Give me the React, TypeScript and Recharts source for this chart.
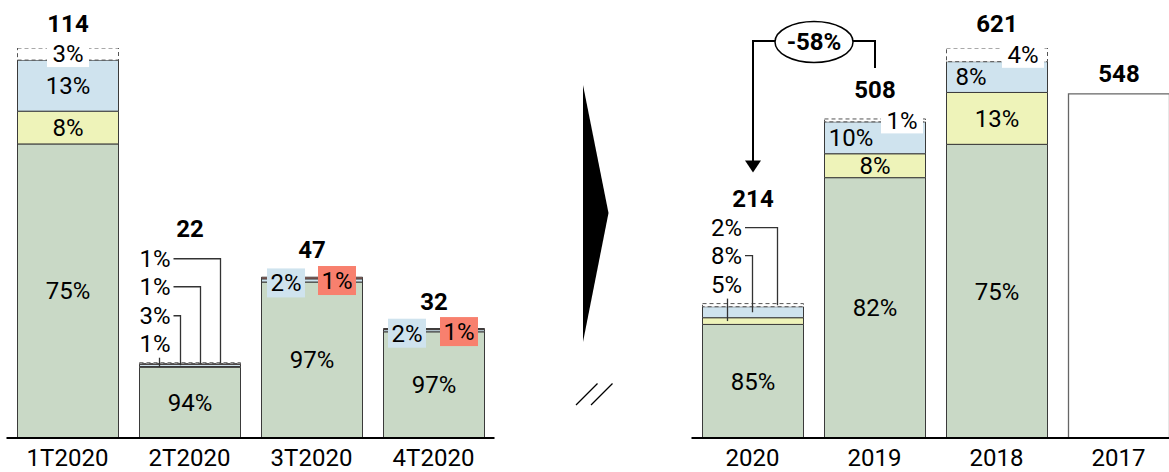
import React from 'react';
import { BarChart, Bar, XAxis, YAxis, LabelList } from 'recharts';

// ---------------- data ----------------
const leftCategories = ['1T2020', '2T2020', '3T2020', '4T2020'];
const leftTotals = [114, 22, 47, 32];
const leftGreen = [75.4, 94, 97, 97];
const leftYellow = [8.4, 1, 0, 0];
const leftBlue = [13.1, 3, 2, 2];
const leftRed = [0, 1, 1, 1];
const leftOther = [3.1, 1, 0, 0];
const leftPlain = [0, 0, 0, 0];

const rightCategories = ['2020', '2019', '2018', '2017'];
const rightTotals = [214, 508, 621, 548];
const rightGreen = [84.5, 81.6, 75.3, 0];
const rightYellow = [5, 7.5, 13.3, 0];
const rightBlue = [8.2, 10, 7.9, 0];
const rightRed = [0, 0, 0, 0];
const rightOther = [2.3, 0.9, 3.5, 0];
const rightPlain = [0, 0, 0, 100];

// ---------------- style / layout ----------------
const FONT = "Roboto, 'Liberation Sans', Arial, sans-serif";
const FS = 24;
const H = 472;
const PLOT_TOP = 48;
const PLOT_BOTTOM = 438;
const AXIS_H = 30;
const BAR = 101;
const BAND = 122;

type SeriesKey = 'green' | 'yellow' | 'blue' | 'red' | 'other' | 'plain';
const ORDER: SeriesKey[] = ['green', 'yellow', 'blue', 'red', 'other', 'plain'];
const FILL: Record<SeriesKey, string> = {
  green: '#c9d9c6',
  yellow: '#eef3b9',
  blue: '#cfe3ee',
  red: '#f8806e',
  other: '#ffffff',
  plain: '#ffffff',
};

type Place =
  | { kind: 'center'; dx?: number }
  | { kind: 'box'; dx: number; dy: number; bg: string; w: number; up: number; down: number }
  | { kind: 'leader'; textRight: number; above: number; lineX: number; vertical?: boolean };

const C: Place = { kind: 'center' };
const whiteBox = (dx: number): Place => ({ kind: 'box', dx, dy: 0, bg: '#ffffff', w: 42, up: 9, down: 13 });
const colorBox = (dx: number, bg: string): Place => ({ kind: 'box', dx, dy: 2.5, bg, w: 38, up: 14.5, down: 14.5 });

const leftPlaces: Record<string, Partial<Record<SeriesKey, Place>>> = {
  '1T2020': { green: C, yellow: C, blue: C, other: whiteBox(0) },
  '2T2020': {
    green: C,
    yellow: { kind: 'leader', textRight: 31, above: 19, lineX: 20, vertical: true },
    blue: { kind: 'leader', textRight: 31, above: 47, lineX: 41 },
    red: { kind: 'leader', textRight: 31, above: 76, lineX: 61 },
    other: { kind: 'leader', textRight: 31, above: 104, lineX: 81 },
  },
  '3T2020': { green: C, blue: colorBox(-26, FILL.blue), red: colorBox(25, FILL.red) },
  '4T2020': { green: C, blue: colorBox(-27, FILL.blue), red: colorBox(25, FILL.red) },
};
const rightPlaces: Record<string, Partial<Record<SeriesKey, Place>>> = {
  '2020': {
    green: C,
    yellow: { kind: 'leader', textRight: 39.5, above: 19, lineX: 25, vertical: true },
    blue: { kind: 'leader', textRight: 39.5, above: 48, lineX: 50 },
    other: { kind: 'leader', textRight: 39.5, above: 76, lineX: 75 },
  },
  '2019': { green: C, yellow: C, blue: { kind: 'center', dx: -24 }, other: whiteBox(27) },
  '2018': { green: C, yellow: C, blue: { kind: 'center', dx: -26 }, other: whiteBox(26) },
  '2017': {},
};
const leftTotalGap = [16, 126, 19, 19];
const rightTotalGap = [97, 21, 16, 12];

type Row = any;

function buildRows(cats: string[], totals: number[], shares: Record<SeriesKey, number[]>): Row[] {
  return cats.map((name, i) => {
    const row: any = { name, total: totals[i], shares: {} };
    ORDER.forEach((k) => {
      row.shares[k] = shares[k][i];
      row[k] = (totals[i] * shares[k][i]) / 100;
    });
    return row;
  });
}

const leftRows = buildRows(leftCategories, leftTotals, {
  green: leftGreen, yellow: leftYellow, blue: leftBlue, red: leftRed, other: leftOther, plain: leftPlain,
});
const rightRows = buildRows(rightCategories, rightTotals, {
  green: rightGreen, yellow: rightYellow, blue: rightBlue, red: rightRed, other: rightOther, plain: rightPlain,
});

const T = (p: any) => <text fontFamily={FONT} fontSize={FS} fill="#000" {...p} />;

type Annot = { from: number; to: number };

function makeBarLabels(
  rows: Row[],
  places: Record<string, Partial<Record<SeriesKey, Place>>>,
  totalGap: number[],
  annot?: Annot
) {
  return (props: any) => {
    const vb = props.viewBox ?? props;
    const x = Number(vb.x);
    const y = Number(vb.y);
    const w = Number(vb.width);
    const h = Number(vb.height);
    let i = rows.findIndex((r: Row) => r.name === String(props.value));
    if (i < 0 && typeof props.index === 'number') i = props.index;
    const row = rows[i];
    if (!row || !isFinite(x) || !isFinite(y)) return null;
    const k = h / row.total;
    const base = y + h;
    const cx = x + w / 2;
    const under: React.ReactNode[] = [];
    const over: React.ReactNode[] = [];
    let cum = 0;
    ORDER.forEach((key) => {
      const v = row[key];
      const bottom = base - cum * k;
      cum += v;
      const top = base - cum * k;
      const mid = (top + bottom) / 2;
      const p = places[row.name]?.[key];
      if (!p || !row.shares[key]) return;
      const txt = `${Math.round(row.shares[key])}%`;
      if (p.kind === 'center') {
        over.push(
          <T key={key} x={cx + (p.dx ?? 0)} y={mid} dy="0.35em" textAnchor="middle">{txt}</T>
        );
      } else if (p.kind === 'box') {
        const tx = cx + p.dx;
        const ty = mid + p.dy;
        over.push(
          <g key={key}>
            <rect x={tx - p.w / 2} y={ty - p.up} width={p.w} height={p.up + p.down} fill={p.bg} />
            <T x={tx} y={ty} dy="0.35em" textAnchor="middle">{txt}</T>
          </g>
        );
      } else {
        const ly = y - p.above;
        const lx = x + p.lineX;
        const tr = x + p.textRight;
        under.push(
          p.vertical ? (
            <line key={key + 'l'} x1={lx} y1={ly + 14} x2={lx} y2={mid} stroke="#333" strokeWidth={1.3} />
          ) : (
            <polyline key={key + 'l'} points={`${tr + 3},${ly} ${lx},${ly} ${lx},${mid}`} fill="none" stroke="#333" strokeWidth={1.3} />
          )
        );
        over.push(
          <T key={key} x={tr} y={ly} dy="0.35em" textAnchor="end">{txt}</T>
        );
      }
    });
    over.push(
      <T key="total" x={cx} y={y - totalGap[i]} textAnchor="middle" fontWeight={700}>{row.total}</T>
    );
    if (annot && i === annot.to) {
      const fromRow = rows[annot.from];
      const fromTop = base - fromRow.total * k;
      const fx = cx - (annot.to - annot.from) * BAND;
      const ey = y - 77;
      const ecx = cx - 61;
      const rx = 39;
      const tip = fromTop - 131;
      const pct = Math.round((fromRow.total / row.total - 1) * 100);
      over.push(
        <g key="annot">
          <polyline points={`${ecx + rx},${ey - 1} ${cx},${ey - 1} ${cx},${y - 51}`} fill="none" stroke="#000" strokeWidth={2} />
          <polyline points={`${ecx - rx},${ey - 1} ${fx},${ey - 1} ${fx},${tip - 10}`} fill="none" stroke="#000" strokeWidth={2} />
          <polygon points={`${fx - 8},${tip - 12} ${fx + 8},${tip - 12} ${fx},${tip}`} fill="#000" />
          <ellipse cx={ecx} cy={ey} rx={rx} ry={20.5} fill="#fff" stroke="#000" strokeWidth={1.5} />
          <T x={ecx} y={ey} dy="0.35em" textAnchor="middle" fontWeight={700}>{`${pct}%`}</T>
        </g>
      );
    }
    return (
      <g>
        {under}
        {over}
      </g>
    );
  };
}

const Tick = (props: any) => (
  <T x={props.x} y={PLOT_BOTTOM + 28} textAnchor="middle">{props.payload?.value}</T>
);

function Panel({ rows, places, totalGap, domainMax, left, width, mLeft, mRight, annot }: any) {
  return (
    <div style={{ position: 'absolute', left, top: 0, width, height: H }}>
      <BarChart
        width={width}
        height={H}
        data={rows}
        margin={{ top: PLOT_TOP, right: mRight, left: mLeft, bottom: H - PLOT_BOTTOM - AXIS_H }}
        barSize={BAR}
      >
        <XAxis
          dataKey="name"
          height={AXIS_H}
          tickLine={false}
          axisLine={{ stroke: '#000', strokeWidth: 2 }}
          tick={<Tick />}
          interval={0}
        />
        <XAxis xAxisId="labels" dataKey="name" hide />
        <YAxis hide domain={[0, domainMax]} allowDataOverflow />
        {ORDER.map((key) => (
          <Bar
            key={key}
            dataKey={key}
            stackId="s"
            fill={FILL[key]}
            stroke={key === 'other' ? '#555' : key === 'plain' ? '#666' : '#3a3a3a'}
            strokeWidth={key === 'plain' ? 1.3 : 1}
            strokeDasharray={key === 'other' ? '4 3' : undefined}
            isAnimationActive={false}
          />
        ))}
        <Bar xAxisId="labels" dataKey="total" fill="none" stroke="none" isAnimationActive={false}>
          <LabelList dataKey="name" content={makeBarLabels(rows, places, totalGap, annot)} />
        </Bar>
      </BarChart>
    </div>
  );
}

export default function App() {
  return (
    <div
      style={{
        position: 'absolute', left: 0, top: 0, width: 1169, height: H,
        overflow: 'hidden', background: '#fff',
      }}
    >
      <Panel
        rows={leftRows}
        places={leftPlaces}
        totalGap={leftTotalGap}
        domainMax={114}
        left={0}
        width={510}
        mLeft={6.5}
        mRight={15.5}
      />
      <Panel
        rows={rightRows}
        places={rightPlaces}
        totalGap={rightTotalGap}
        domainMax={621}
        left={680}
        width={500}
        mLeft={11.5}
        mRight={0.5}
        annot={{ from: 0, to: 1 }}
      />
      <svg width={1169} height={H} style={{ position: 'absolute', left: 0, top: 0, pointerEvents: 'none' }}>
        <polygon points="583,85 608.5,213 583,342" fill="#000" />
        <line x1={576} y1={405} x2={597.5} y2={383.5} stroke="#000" strokeWidth={1.3} />
        <line x1={591} y1={405} x2={612.5} y2={383.5} stroke="#000" strokeWidth={1.3} />
      </svg>
    </div>
  );
}
